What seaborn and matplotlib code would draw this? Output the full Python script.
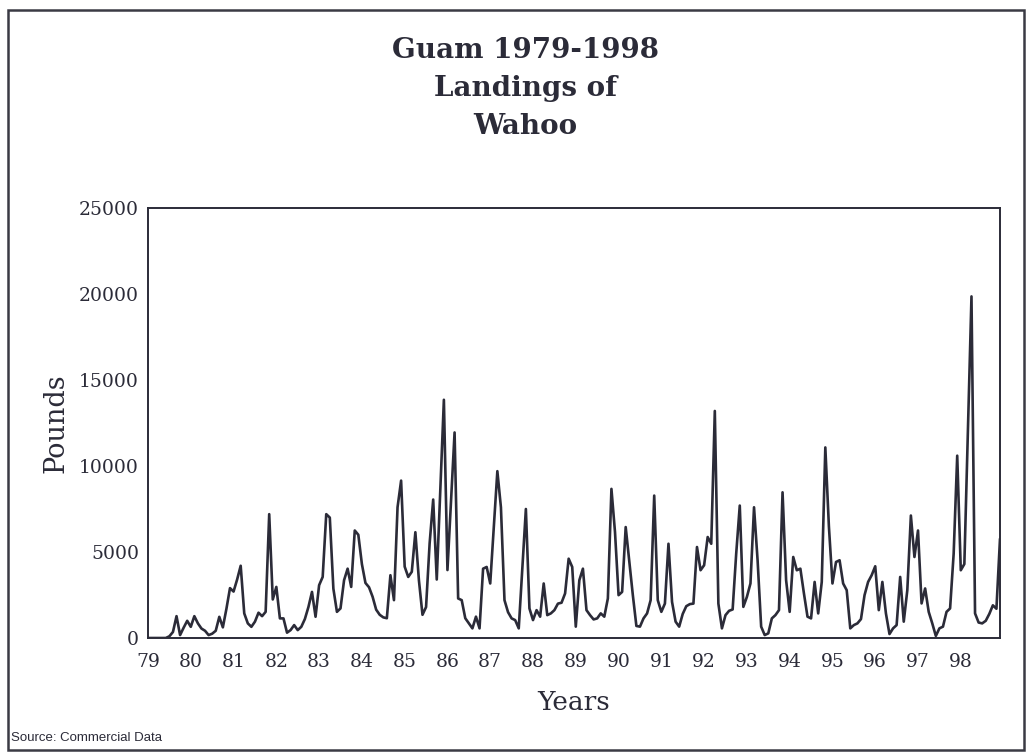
import numpy as np
import pandas as pd
import matplotlib
matplotlib.use("Agg")
import matplotlib.pyplot as plt
import seaborn as sns

# Monthly landings of Wahoo (pounds)
y1979 = [0, 0, 0, 0, 0, 0, 100, 350, 1270, 170, 600, 1000]
y1980 = [650, 1270, 850, 550, 420, 170, 250, 420, 1230, 620, 1700, 2900]
y1981 = [2700, 3400, 4200, 1430, 850, 650, 950, 1470, 1270, 1520, 7200, 2240]
y1982 = [2970, 1140, 1140, 310, 460, 750, 460, 650, 1100, 1800, 2680, 1235]
y1983 = [3070, 3550, 7200, 7000, 2870, 1520, 1720, 3360, 4030, 2970, 6250, 6000]
y1984 = [4300, 3200, 2950, 2400, 1650, 1350, 1200, 1150, 3650, 2200, 7600, 9150]
y1985 = [4150, 3550, 3850, 6150, 3350, 1350, 1800, 5500, 8050, 3400, 8600, 13850]
y1986 = [3950, 8000, 11950, 2300, 2200, 1150, 850, 560, 1240, 560, 4030, 4130]
y1987 = [3170, 6450, 9700, 7600, 2200, 1500, 1140, 1040, 560, 4000, 7500, 1720]
y1988 = [1040, 1620, 1240, 3170, 1330, 1430, 1620, 2000, 2050, 2590, 4610, 4130]
y1989 = [660, 3360, 4030, 1620, 1330, 1080, 1140, 1430, 1240, 2300, 8670, 6160]
y1990 = [2490, 2680, 6450, 4500, 2500, 700, 660, 1140, 1430, 2200, 8280, 2200]
y1991 = [1520, 2000, 5480, 2100, 950, 660, 1400, 1850, 1970, 2000, 5290, 3940]
y1992 = [4230, 5870, 5480, 13200, 2000, 560, 1330, 1580, 1660, 4900, 7700, 1810]
y1993 = [2390, 3170, 7600, 4520, 660, 170, 270, 1140, 1330, 1620, 8470, 3360]
y1994 = [1520, 4710, 3940, 4030, 2590, 1240, 1140, 3260, 1430, 3260, 11080, 6500]
y1995 = [3170, 4420, 4520, 3170, 2780, 560, 750, 850, 1100, 2490, 3260, 3650]
y1996 = [4170, 1620, 3260, 1430, 230, 560, 750, 3550, 950, 2780, 7120, 4710]
y1997 = [6250, 2010, 2880, 1520, 850, 120, 560, 660, 1520, 1720, 4900, 10600]
y1998 = [3940, 4300, 12000, 19860, 1430, 900, 850, 1000, 1400, 1900, 1700, 5770]

years = list(range(79, 99))
year_labels = [str(y) for y in years]
y_ticks = [0, 5000, 10000, 15000, 20000, 25000]

yearly = [y1979, y1980, y1981, y1982, y1983, y1984, y1985, y1986, y1987, y1988,
          y1989, y1990, y1991, y1992, y1993, y1994, y1995, y1996, y1997, y1998]

rows = []
for yr, vals in zip(years, yearly):
    for m, v in enumerate(vals):
        rows.append({"t": yr + m / 12.0, "Pounds": v})
df = pd.DataFrame(rows)

sns.set_theme(style="white")
plt.rcParams["font.family"] = ["DejaVu Serif"]

ink = "#2b2b38"
fig = plt.figure(figsize=(10.30, 7.53), dpi=100)
ax = fig.add_axes([148 / 1030, 1 - 638 / 753, (1000 - 148) / 1030, (638 - 208) / 753])

sns.lineplot(data=df, x="t", y="Pounds", ax=ax, color=ink, linewidth=1.9)

ax.set_xlim(79, 98 + 11 / 12)
ax.set_ylim(0, 25000)
ax.set_xticks(years)
ax.set_xticklabels(year_labels)
ax.set_yticks(y_ticks)
ax.set_yticklabels([str(v) for v in y_ticks])
ax.tick_params(axis="both", direction="inout", length=9, width=1.3, color=ink,
               labelsize=13.5, labelcolor=ink)
ax.tick_params(axis="y", pad=2)
ax.tick_params(axis="x", pad=6)
for s in ax.spines.values():
    s.set_visible(True)
    s.set_color(ink)
    s.set_linewidth(1.4)

ax.set_xlabel("Years", fontsize=19, color=ink, labelpad=14)
ax.set_ylabel("Pounds", fontsize=19.5, color=ink, labelpad=7)

for ypx, txt in [(50, "Guam 1979-1998"), (88, "Landings of"), (127, "Wahoo")]:
    fig.text(0.51, 1 - ypx / 753, txt, ha="center", va="center",
             fontsize=20, fontweight="bold", color=ink)

fig.text(11 / 1030, 1 - 738 / 753, "Source: Commercial Data", ha="left", va="center",
         fontsize=9.5, family=["Liberation Sans", "DejaVu Sans"], color=ink)

border = plt.Rectangle((8 / 1030, 1 - 750 / 753), (1024 - 8) / 1030, (750 - 10) / 753,
                       transform=fig.transFigure, fill=False, edgecolor="#3a3a44",
                       linewidth=1.8)
fig.add_artist(border)

fig.savefig("out.png", dpi=100)
